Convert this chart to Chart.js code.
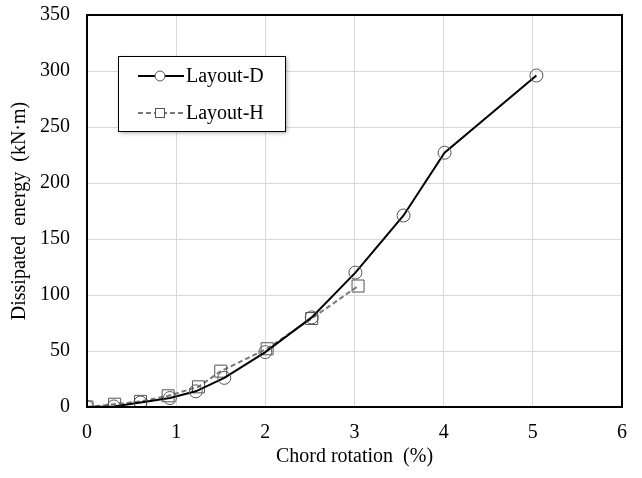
<!DOCTYPE html>
<html>
<head>
<meta charset="utf-8">
<script src="https://cdn.jsdelivr.net/npm/chart.js@4/dist/chart.umd.min.js"></script>
<style>
  body { margin: 0; background: #fff; }
  #wrap { width: 642px; height: 478px; }
</style>
</head>
<body>
<div id="wrap"><canvas id="myChart" width="642" height="478"></canvas></div>
<script>
// Layout-D
const rotD = [0, 0.30, 0.60, 0.93, 1.22, 1.54, 2.00, 2.52, 3.01, 3.55, 4.01, 5.04];
const energyD = [0, 0.5, 4, 8, 14, 26, 49, 80, 120, 171, 227, 296];
// Layout-H
const rotH = [0, 0.31, 0.60, 0.91, 1.25, 1.50, 2.02, 2.52, 3.04];
const energyH = [0, 2.5, 5, 10, 18, 32, 52, 79, 108];

const xTicks = [0, 1, 2, 3, 4, 5, 6];
const yTicks = [0, 50, 100, 150, 200, 250, 300, 350];

const serif = "'Liberation Serif', 'Times New Roman', serif";

function toPoints(xs, ys) {
  return xs.map((x, i) => ({ x: x, y: ys[i] }));
}

var ctx = document.getElementById("myChart").getContext("2d");

// legend box drawn inside the plot, like the original
const boxLegend = {
  id: 'boxLegend',
  afterDraw(chart) {
    const c = chart.ctx;
    const x0 = 118, y0 = 56, w = 167, h = 75;
    c.save();
    c.shadowColor = 'rgba(0,0,0,0.35)';
    c.shadowBlur = 4;
    c.shadowOffsetX = 2;
    c.shadowOffsetY = 2;
    c.fillStyle = '#fff';
    c.fillRect(x0, y0, w, h);
    c.restore();

    c.save();
    c.strokeStyle = '#000';
    c.lineWidth = 1;
    c.strokeRect(x0 + 0.5, y0 + 0.5, w, h);

    const rows = [y0 + 20, y0 + 57];
    chart.data.datasets.forEach((ds, i) => {
      const y = rows[i];
      c.beginPath();
      c.strokeStyle = ds.borderColor;
      c.lineWidth = ds.borderWidth;
      c.setLineDash(ds.borderDash || []);
      c.moveTo(138, y);
      c.lineTo(184, y);
      c.stroke();
      c.setLineDash([]);
      c.lineWidth = 1;
      c.strokeStyle = ds.pointBorderColor;
      c.fillStyle = '#fff';
      if (ds.pointStyle === 'rect') {
        c.fillRect(155, y - 5, 10, 10);
        c.strokeRect(155.5, y - 4.5, 9, 9);
      } else {
        c.beginPath();
        c.arc(160, y, 5, 0, Math.PI * 2);
        c.fill();
        c.stroke();
      }
      c.fillStyle = '#000';
      c.font = '20px ' + serif;
      c.textAlign = 'left';
      c.textBaseline = 'middle';
      c.fillText(ds.label, 186, y + 1);
    });
    c.restore();
  }
};

var chart1 = new Chart(ctx, {
  type: 'scatter',
  data: {
    datasets: [
      {
        label: 'Layout-D',
        data: toPoints(rotD, energyD),
        showLine: true,
        borderColor: '#000',
        borderWidth: 2,
        pointStyle: 'circle',
        pointRadius: 6.5,
        pointHoverRadius: 6.5,
        pointBorderColor: '#555',
        pointBorderWidth: 1,
        pointBackgroundColor: 'rgba(0,0,0,0)',
        tension: 0,
        order: 1
      },
      {
        label: 'Layout-H',
        data: toPoints(rotH, energyH),
        showLine: true,
        borderColor: '#777',
        borderWidth: 2,
        borderDash: [5, 3],
        pointStyle: 'rect',
        pointRadius: 8.5,
        pointHoverRadius: 8.5,
        pointBorderColor: '#555',
        pointBorderWidth: 1,
        pointBackgroundColor: 'rgba(0,0,0,0)',
        tension: 0,
        order: 2
      }
    ]
  },
  options: {
    responsive: false,
    animation: false,
    layout: { padding: { top: 15, right: 20, left: 0, bottom: 0 } },
    plugins: {
      legend: { display: false },
      tooltip: { enabled: false }
    },
    scales: {
      x: {
        type: 'linear',
        min: 0,
        max: 6,
        afterBuildTicks(scale) { scale.ticks = xTicks.map(v => ({ value: v })); },
        afterFit(scale) {
          scale.height = 71;
          scale.paddingLeft = 0;
          scale.paddingRight = 0;
        },
        grid: { color: '#d9d9d9', lineWidth: 1, drawTicks: false },
        border: { color: '#000', width: 2 },
        ticks: { color: '#000', font: { family: serif, size: 20 }, padding: 14 },
        title: {
          display: true,
          text: 'Chord rotation  (%)',
          color: '#000',
          font: { family: serif, size: 20 },
          padding: { top: 9, bottom: 9 }
        }
      },
      y: {
        type: 'linear',
        min: 0,
        max: 350,
        afterBuildTicks(scale) { scale.ticks = yTicks.map(v => ({ value: v })); },
        afterFit(scale) {
          scale.width = 87;
          scale.paddingTop = 0;
          scale.paddingBottom = 0;
        },
        grid: { color: '#d9d9d9', lineWidth: 1, drawTicks: false },
        border: { color: '#000', width: 2 },
        ticks: { color: '#000', font: { family: serif, size: 20 }, padding: 17 },
        title: {
          display: true,
          text: 'Dissipated  energy  (kN·m)',
          color: '#000',
          font: { family: serif, size: 20 },
          padding: { top: 8, bottom: 8 }
        }
      }
    }
  },
  plugins: [
    {
      // right and top frame lines
      id: 'frame',
      afterDatasetsDraw(chart) {
        const { ctx: c, chartArea: a } = chart;
        c.save();
        c.strokeStyle = '#000';
        c.lineWidth = 2;
        c.strokeRect(a.left, a.top, a.right - a.left, a.bottom - a.top);
        c.restore();
      }
    },
    boxLegend
  ]
});
</script>
</body>
</html>
